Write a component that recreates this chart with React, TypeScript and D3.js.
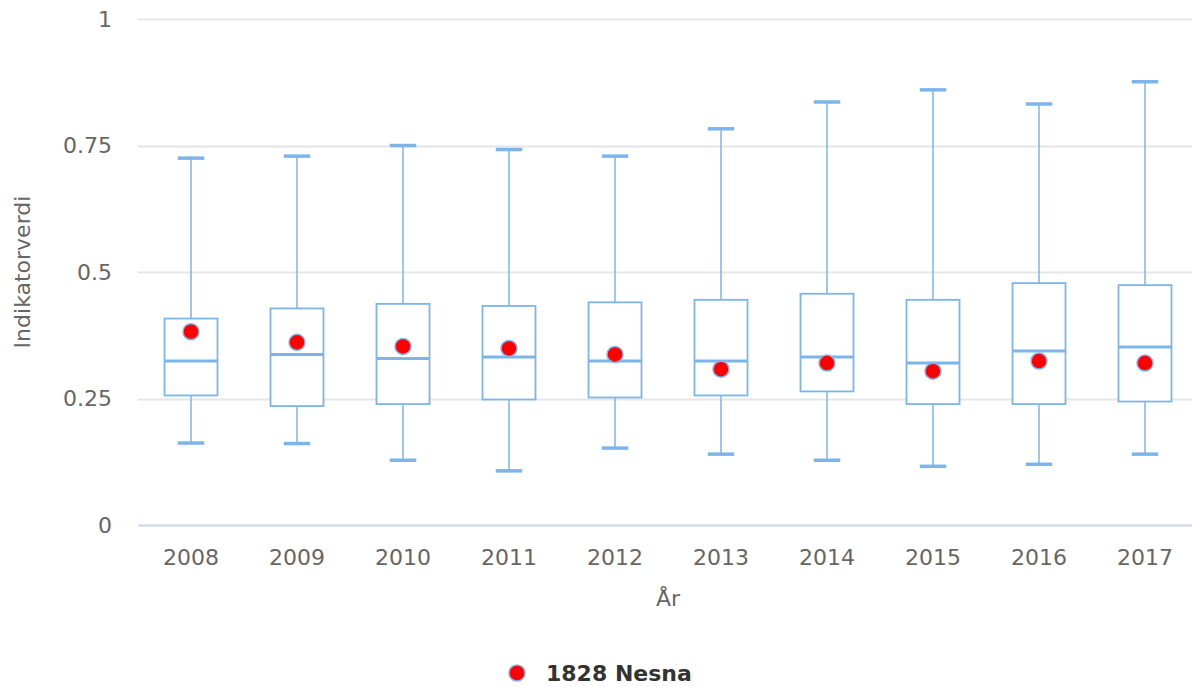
import React from 'react';
import * as d3 from 'd3';

const years = ['2008', '2009', '2010', '2011', '2012', '2013', '2014', '2015', '2016', '2017'];
const lows = [0.162, 0.161, 0.128, 0.107, 0.152, 0.14, 0.128, 0.116, 0.12, 0.14];
const q1s = [0.256, 0.235, 0.239, 0.248, 0.252, 0.256, 0.264, 0.239, 0.239, 0.244];
const medians = [0.324, 0.337, 0.329, 0.332, 0.324, 0.324, 0.332, 0.32, 0.344, 0.352];
const q3s = [0.408, 0.428, 0.437, 0.433, 0.44, 0.445, 0.457, 0.445, 0.478, 0.474];
const highs = [0.725, 0.729, 0.75, 0.742, 0.729, 0.783, 0.836, 0.86, 0.832, 0.876];
const nesna = [0.382, 0.361, 0.353, 0.349, 0.337, 0.308, 0.32, 0.304, 0.324, 0.32];
const yTicks = [0, 0.25, 0.5, 0.75, 1];
const seriesName = '1828 Nesna';

const W = 1192;
const H = 687;
const FONT = '"DejaVu Sans", sans-serif';
const BLUE = '#7cb5ec';

const App: React.FC = () => {
  const x = d3.scaleBand<string>().domain(years).range([138, 1198]);
  const y = d3.scaleLinear().domain([0, 1]).range([525, 19]);
  const bw = x.bandwidth();
  const boxW = bw * 0.5;
  const capW = boxW * 0.5;

  return (
    <div style={{ position: 'absolute', left: 0, top: 0 }}>
      <svg width={W} height={H} style={{ display: 'block', background: '#fff' }}>
        {/* grid */}
        {yTicks.filter(t => t !== 0).map(t => (
          <line key={t} x1={138} x2={W} y1={Math.round(y(t)) + 0.5} y2={Math.round(y(t)) + 0.5}
            stroke="#e6e6e6" strokeWidth={2} />
        ))}
        <line x1={138} x2={W} y1={y(0) + 0.5} y2={y(0) + 0.5} stroke="#ccd6eb" strokeWidth={2} />

        {/* y ticks */}
        {yTicks.map(t => (
          <text key={t} x={112} y={y(t)} dy="0.35em" textAnchor="end"
            fontFamily={FONT} fontSize={22} fill="#666">{d3.format('~g')(t)}</text>
        ))}
        <text transform={`translate(30,${(y(0) + y(1)) / 2}) rotate(-90)`} textAnchor="middle"
          fontFamily={FONT} fontSize={22} fill="#666">Indikatorverdi</text>

        {/* x ticks */}
        {years.map(yr => (
          <text key={yr} x={(x(yr) as number) + bw / 2} y={565} textAnchor="middle"
            fontFamily={FONT} fontSize={22} fill="#666">{yr}</text>
        ))}
        <text x={(138 + 1198) / 2} y={606} textAnchor="middle"
          fontFamily={FONT} fontSize={22} fill="#666">År</text>

        {/* boxes */}
        {years.map((yr, i) => {
          const cx = (x(yr) as number) + bw / 2;
          return (
            <g key={yr}>
              <line x1={cx} x2={cx} y1={y(highs[i])} y2={y(q3s[i])} stroke={BLUE} strokeWidth={1.5} />
              <line x1={cx} x2={cx} y1={y(q1s[i])} y2={y(lows[i])} stroke={BLUE} strokeWidth={1.5} />
              <line x1={cx - capW / 2} x2={cx + capW / 2} y1={y(highs[i])} y2={y(highs[i])} stroke={BLUE} strokeWidth={3.5} />
              <line x1={cx - capW / 2} x2={cx + capW / 2} y1={y(lows[i])} y2={y(lows[i])} stroke={BLUE} strokeWidth={3.5} />
              <rect x={cx - boxW / 2} y={y(q3s[i])} width={boxW} height={y(q1s[i]) - y(q3s[i])}
                fill="#fff" stroke={BLUE} strokeWidth={1.8} />
              <line x1={cx - boxW / 2} x2={cx + boxW / 2} y1={y(medians[i])} y2={y(medians[i])} stroke={BLUE} strokeWidth={3} />
            </g>
          );
        })}

        {/* points */}
        {years.map((yr, i) => (
          <circle key={yr} cx={(x(yr) as number) + bw / 2} cy={y(nesna[i])} r={8}
            fill="#ff0000" stroke={BLUE} strokeWidth={1.5} />
        ))}

        {/* legend */}
        <circle cx={517} cy={673} r={8} fill="#ff0000" stroke={BLUE} strokeWidth={1.5} />
        <text x={546} y={681} fontFamily={FONT} fontSize={22} fontWeight="bold" fill="#333">{seriesName}</text>
      </svg>
    </div>
  );
};

export default App;
